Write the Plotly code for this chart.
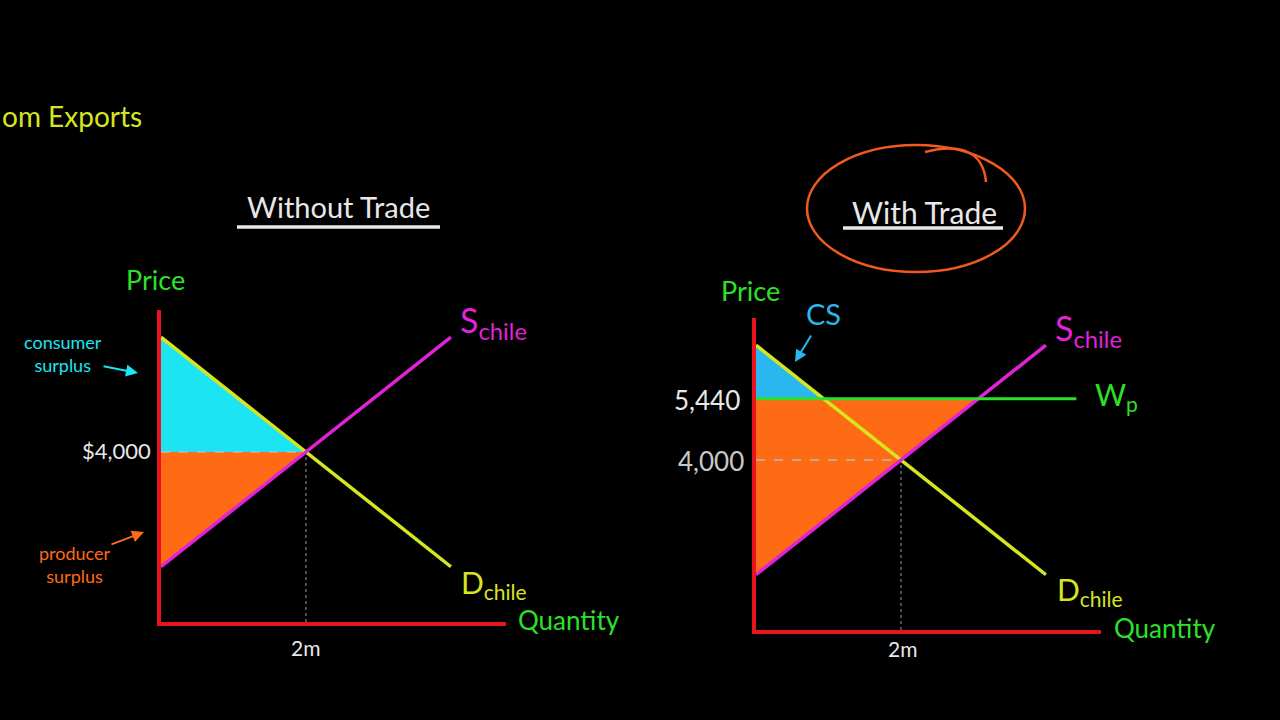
import plotly.graph_objects as go

# ---------------- data (quantity in millions, price in $) ----------------
demand_q = [0, 4.0]
demand_p = [6700, 1300]
supply_q = [0, 4.0]
supply_p = [1300, 6700]
eq_q = 2.0
eq_p = 4000
world_p = 5440
world_q_end = 4.42
cs_left_q = [0, 2.0, 0]
cs_left_p = [6700, 4000, 4000]
ps_left_q = [0, 2.0, 0]
ps_left_p = [4000, 4000, 1300]
cs_right_q = [0, 0.93, 0]
cs_right_p = [6700, 5440, 5440]
ps_right_q = [0, 3.07, 0]
ps_right_p = [5440, 5440, 1300]
price_labels_left = ["$4,000"]
price_labels_right = ["5,440", "4,000"]
qty_label = "2m"

W, H = 1280, 720
def px(x): return x / W
def py(y): return 1 - y / H

RED = "#e8141c"
YEL = "#d6e61e"
MAG = "#e022d8"
GRN = "#2ee02a"
CYAN = "#1de4f2"
ORNG = "#ff6a14"
BLUE = "#2ab6ee"
WHITE = "#e8e8e8"
GRAY = "#c8c8c8"
FONT = "Lato"

fig = go.Figure()

def add_panel(xa, ya, right):
    if not right:
        fig.add_trace(go.Scatter(x=cs_left_q, y=cs_left_p, fill="toself", fillcolor=CYAN,
                                 line=dict(width=0), mode="lines", xaxis=xa, yaxis=ya, hoverinfo="skip"))
        fig.add_trace(go.Scatter(x=ps_left_q, y=ps_left_p, fill="toself", fillcolor=ORNG,
                                 line=dict(width=0), mode="lines", xaxis=xa, yaxis=ya, hoverinfo="skip"))
    else:
        fig.add_trace(go.Scatter(x=ps_right_q, y=ps_right_p, fill="toself", fillcolor=ORNG,
                                 line=dict(width=0), mode="lines", xaxis=xa, yaxis=ya, hoverinfo="skip"))
        fig.add_trace(go.Scatter(x=cs_right_q, y=cs_right_p, fill="toself", fillcolor=BLUE,
                                 line=dict(width=0), mode="lines", xaxis=xa, yaxis=ya, hoverinfo="skip"))
    fig.add_trace(go.Scatter(x=[0, eq_q], y=[eq_p, eq_p], mode="lines",
                             line=dict(color="#bbbbbb", width=1.5, dash="dash"),
                             xaxis=xa, yaxis=ya, hoverinfo="skip"))
    fig.add_trace(go.Scatter(x=[eq_q, eq_q], y=[0, eq_p], mode="lines",
                             line=dict(color="#9a9a9a", width=1, dash="dot"),
                             xaxis=xa, yaxis=ya, hoverinfo="skip"))
    fig.add_trace(go.Scatter(x=demand_q, y=demand_p, mode="lines", line=dict(color=YEL, width=3.5),
                             xaxis=xa, yaxis=ya, hoverinfo="skip"))
    fig.add_trace(go.Scatter(x=supply_q, y=supply_p, mode="lines", line=dict(color=MAG, width=3.5),
                             xaxis=xa, yaxis=ya, hoverinfo="skip"))
    if right:
        fig.add_trace(go.Scatter(x=[0, world_q_end], y=[world_p, world_p], mode="lines",
                                 line=dict(color=GRN, width=3), xaxis=xa, yaxis=ya, hoverinfo="skip"))

add_panel("x", "y", False)
add_panel("x2", "y2", True)

ax_common = dict(showgrid=False, zeroline=False, showticklabels=False, ticks="",
                 showline=True, linecolor=RED, linewidth=3.5, fixedrange=True)
fig.update_layout(
    width=W, height=H, margin=dict(l=0, r=0, t=0, b=0),
    paper_bgcolor="black", plot_bgcolor="black", showlegend=False,
    xaxis=dict(domain=[px(161), px(506)], range=[0, 4.76], anchor="y", **ax_common),
    yaxis=dict(domain=[py(622), py(310)], range=[0, 7341], anchor="x", **ax_common),
    xaxis2=dict(domain=[px(756), px(1101)], range=[0, 4.76], anchor="y2", **ax_common),
    yaxis2=dict(domain=[py(630), py(318)], range=[0, 7341], anchor="x2", **ax_common),
)

def txt(x, y, text, color, size, xanchor="center", yanchor="middle"):
    fig.add_annotation(x=px(x), y=py(y), xref="paper", yref="paper", text=text, showarrow=False,
                       font=dict(family=FONT, size=size, color=color), xanchor=xanchor, yanchor=yanchor)

def arrow(x0, y0, x1, y1, color):
    fig.add_annotation(x=px(x1), y=py(y1), xref="paper", yref="paper", ax=x0 - x1, ay=y0 - y1,
                       axref="pixel", ayref="pixel", text="", showarrow=True, arrowhead=2,
                       arrowsize=1.2, arrowwidth=2, arrowcolor=color)

# titles
txt(0, 116, "om Exports", YEL, 28, xanchor="left")
txt(338, 207, "Without Trade", WHITE, 29)
txt(924, 212, "With Trade", WHITE, 30)
fig.add_shape(type="line", xref="paper", yref="paper", x0=px(237), x1=px(440), y0=py(227), y1=py(227),
              line=dict(color=WHITE, width=3.5))
fig.add_shape(type="line", xref="paper", yref="paper", x0=px(843), x1=px(1003), y0=py(228), y1=py(228),
              line=dict(color=WHITE, width=3.5))
fig.add_shape(type="circle", xref="paper", yref="paper", x0=px(807), x1=px(1025), y0=py(272), y1=py(145),
              line=dict(color="#f05a1e", width=2.5))
fig.add_shape(type="path", xref="paper", yref="paper",
              path=f"M {px(925)},{py(152)} Q {px(982)},{py(138)} {px(986)},{py(182)}",
              line=dict(color="#f05a1e", width=2.5))

# left panel labels
txt(155, 280, "Price", GRN, 27)
txt(458, 322, "S<sub>chile</sub>", MAG, 34, xanchor="left")
txt(459, 584, "D<sub>chile</sub>", YEL, 30, xanchor="left")
txt(516, 620, "Quantity", GRN, 26, xanchor="left")
txt(153, 450, price_labels_left[0], WHITE, 22, xanchor="right")
txt(305, 647, qty_label, WHITE, 21)
txt(63, 353, "consumer<br>surplus", CYAN, 18)
arrow(102, 366, 138, 373, CYAN)
txt(75, 564, "producer<br>surplus", ORNG, 18)
arrow(110, 545, 144, 532, ORNG)

# right panel labels
txt(750, 290, "Price", GRN, 27)
txt(823, 313, "CS", BLUE, 29)
arrow(812, 334, 795, 362, BLUE)
txt(742, 400, price_labels_right[0], WHITE, 26, xanchor="right")
txt(746, 461, price_labels_right[1], GRAY, 26, xanchor="right")
txt(1053, 330, "S<sub>chile</sub>", MAG, 34, xanchor="left")
txt(1093, 396, "W<sub>p</sub>", GRN, 30, xanchor="left")
txt(1055, 591, "D<sub>chile</sub>", YEL, 30, xanchor="left")
txt(1112, 628, "Quantity", GRN, 26, xanchor="left")
txt(902, 648, qty_label, WHITE, 21)

fig.write_html("out.html", config={"displayModeBar": False},
               post_script="document.body.style.margin='0';document.body.style.background='black';")
